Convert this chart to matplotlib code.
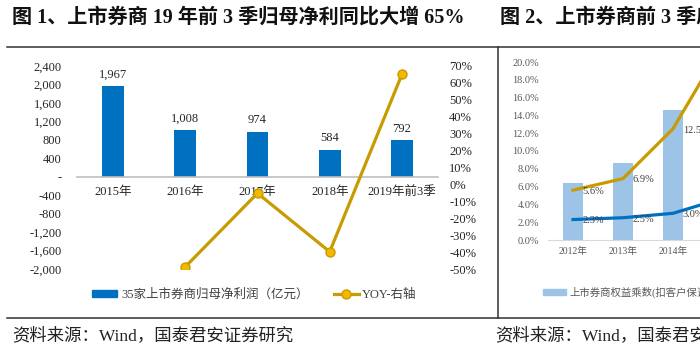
import matplotlib
matplotlib.use('Agg')
import matplotlib.pyplot as plt
from matplotlib.lines import Line2D
from matplotlib.patches import Patch
from matplotlib.ticker import FuncFormatter
import numpy as np

plt.rcParams['font.family'] = ['Liberation Serif', 'Noto Sans CJK SC']

# ---------------- data: left chart ----------------
years = ['2015年', '2016年', '2017年', '2018年', '2019年前3季']
profit = [1967, 1008, 974, 584, 792]
yoy = [np.nan, -0.487, -0.052, -0.398, 0.650]
profit_label = '35家上市券商归母净利润（亿元）'
yoy_label = 'YOY-右轴'
title1 = '图 1、上市券商 19 年前 3 季归母净利同比大增 65%'
source = '资料来源：Wind，国泰君安证券研究'

# ---------------- data: right chart (partly visible) ----------------
years2 = ['2012年', '2013年', '2014年', '2015年']
bars2 = [6.4, 8.7, 14.6, 16.5]
gold2 = [5.6, 6.9, 12.5, 22.0]
blue2 = [2.3, 2.5, 3.0, 4.7]
bars2_label = '上市券商权益乘数(扣客户保证金)'
title2 = '图 2、上市券商前 3 季度ROE与杠杆率'

W, H = 700, 350
BLUE = '#0070C0'
GOLD = '#C89B00'
GOLD_FILL = '#F5B800'
LIGHTBLUE = '#9DC3E6'


def fy(py):
    return 1 - py / H


fig = plt.figure(figsize=(7, 3.5), dpi=100)
fig.patch.set_facecolor('white')

# ---------------- left chart ----------------
ax = fig.add_axes([77 / W, 1 - 269 / H, 361 / W, 203 / H])
x = np.arange(len(years))
ax.bar(x, profit, width=0.3, color=BLUE, zorder=2)
ax.set_xlim(-0.5, len(years) - 0.5)
ax.set_ylim(-2000, 2400)
ax.set_yticks(range(-2000, 2401, 400))
ax.yaxis.set_major_formatter(FuncFormatter(lambda v, p: '-' if v == 0 else f'{int(v):,}'))
for s in ['top', 'right', 'left']:
    ax.spines[s].set_visible(False)
ax.spines['bottom'].set_position(('data', 0))
ax.spines['bottom'].set_color('#BFBFBF')
ax.spines['bottom'].set_linewidth(1.2)
ax.set_xticks(x, years)
ax.tick_params(axis='both', length=0, labelsize=9, colors='#262626')
ax.tick_params(axis='y', pad=11)
ax.tick_params(axis='x', pad=7)
for xi, v in zip(x, profit):
    ax.annotate(f'{v:,}', (xi, v), xytext=(0, 4), textcoords='offset points',
                ha='center', va='bottom', fontsize=9, color='#262626')

axr = ax.twinx()
axr.plot(x, yoy, color=GOLD, lw=2.3, marker='o', ms=6.5, mfc=GOLD_FILL, mec=GOLD, mew=1)
axr.set_ylim(-0.5, 0.7)
axr.set_yticks(np.round(np.arange(-0.5, 0.71, 0.1), 2))
axr.yaxis.set_major_formatter(FuncFormatter(lambda v, p: f'{int(round(v * 100))}%'))
for s in axr.spines.values():
    s.set_visible(False)
axr.tick_params(axis='y', length=0, labelsize=9, colors='#262626', pad=8)

fig.legend(handles=[Patch(color=BLUE),
                    Line2D([], [], color=GOLD, lw=2.3, marker='o', ms=6.5, mfc=GOLD_FILL, mec=GOLD)],
           labels=[profit_label, yoy_label], loc='center',
           bbox_to_anchor=(254.5 / W, fy(295)), ncol=2, frameon=False, fontsize=9,
           handlelength=2.0, handleheight=0.5, handletextpad=0.3, columnspacing=2.0,
           labelcolor='#404040')

# ---------------- right chart (cut off at figure edge) ----------------
ax2 = fig.add_axes([548 / W, 1 - 240 / H, 400 / W, 178 / H])
x2 = np.arange(len(years2))
ax2.bar(x2, bars2, width=0.4, color=LIGHTBLUE, zorder=1)
ax2.plot(x2, gold2, color=GOLD, lw=2.3, zorder=3)
ax2.plot(x2, blue2, color=BLUE, lw=2.3, zorder=3)
ax2.set_xlim(-0.5, 7.5)
ax2.set_ylim(0, 20)
ax2.set_yticks(range(0, 21, 2))
ax2.yaxis.set_major_formatter(FuncFormatter(lambda v, p: f'{v:.1f}%'))
for s in ['top', 'right', 'left']:
    ax2.spines[s].set_visible(False)
ax2.spines['bottom'].set_color('#D9D9D9')
ax2.set_xticks(x2, years2)
ax2.tick_params(axis='both', length=0, labelsize=7.5, colors='#595959')
ax2.tick_params(axis='y', pad=6.5)
ax2.tick_params(axis='x', pad=5, labelsize=7)
for xi, v in zip(x2[:3], gold2[:3]):
    ax2.annotate(f'{v}%', (xi, v), xytext=(7, -1), textcoords='offset points',
                 ha='left', va='center', fontsize=7.5, color='#404040')
for xi, v in zip(x2[:3], blue2[:3]):
    ax2.annotate(f'{v}%', (xi, v), xytext=(7, -1), textcoords='offset points',
                 ha='left', va='center', fontsize=7.5, color='#404040')
ax2.legend(handles=[Patch(color=LIGHTBLUE)], labels=[bars2_label], loc='center left',
           bbox_to_anchor=(543 / W, fy(292)), bbox_transform=fig.transFigure,
           frameon=False, fontsize=7.5, handlelength=2.2, handleheight=0.5,
           borderpad=0, borderaxespad=0, handletextpad=0.3, labelcolor='#595959')

# ---------------- titles, sources and frame lines ----------------
fig.text(12 / W, fy(18), title1, fontsize=14.5, fontweight='bold', ha='left', va='center', color='#111111')
fig.text(500 / W, fy(18), title2, fontsize=14.5, fontweight='bold', ha='left', va='center', color='#111111')
fig.text(12 / W, fy(336), source, fontsize=12.5, ha='left', va='center', color='#222222')
fig.text(495 / W, fy(336), source, fontsize=12.5, ha='left', va='center', color='#222222')

for (x0, y0, x1, y1) in [(7, 47, 700, 47), (7, 318, 700, 318), (498, 47, 498, 318)]:
    fig.add_artist(Line2D([x0 / W, x1 / W], [fy(y0), fy(y1)], color='#303030', lw=1.1,
                          transform=fig.transFigure))

fig.savefig('out.png', dpi=100)
